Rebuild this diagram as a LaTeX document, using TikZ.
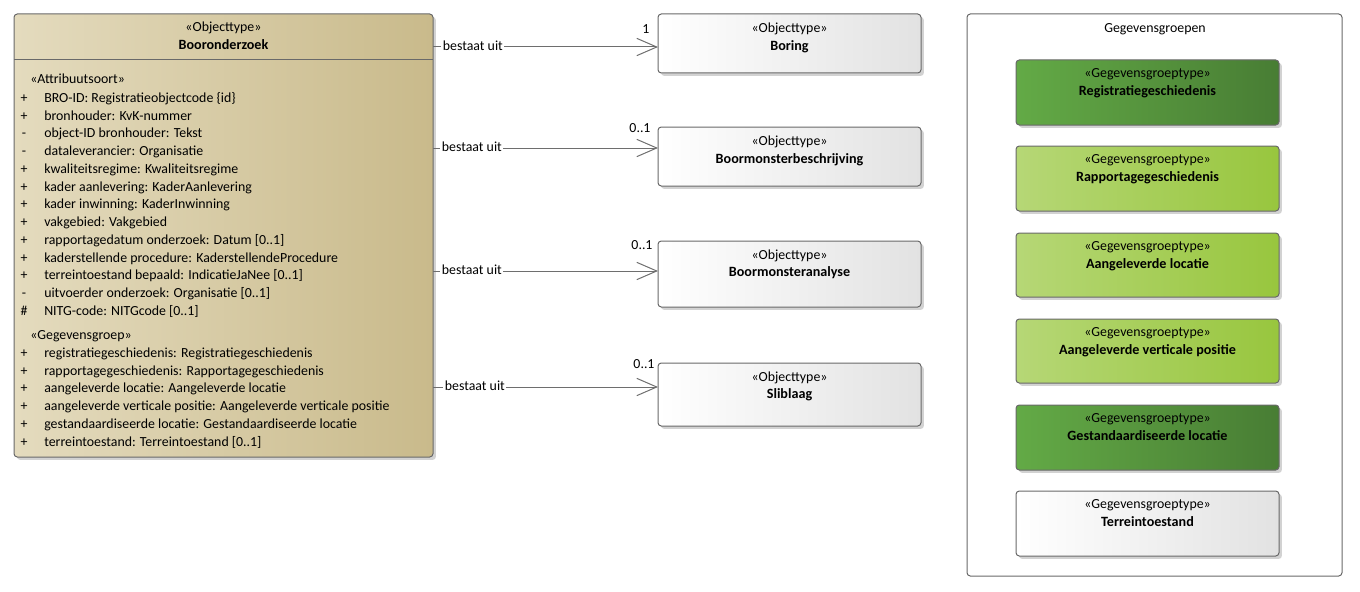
\documentclass[tikz,border=0pt]{standalone}
\usepackage{fontspec}
\setmainfont{Carlito}
\usetikzlibrary{shadows,arrows.meta}
\definecolor{boxline}{RGB}{105,105,105}
\definecolor{tanL}{RGB}{228,219,190}
\definecolor{tanR}{RGB}{201,186,139}
\definecolor{dgL}{RGB}{99,170,70}
\definecolor{dgR}{RGB}{72,125,52}
\definecolor{lgL}{RGB}{182,215,118}
\definecolor{lgR}{RGB}{152,198,62}
\definecolor{wR}{RGB}{226,226,226}
\definecolor{conn}{RGB}{110,110,110}
\begin{document}
\begin{tikzpicture}[x=0.75pt,y=-0.75pt,
  font=\fontsize{10.4}{12}\selectfont,
  umlbox/.style 2 args={draw=boxline, line width=0.75pt, rounded corners=2.5pt,
    inner sep=0pt, outer sep=0pt, anchor=north west,
    minimum width=#1*0.75pt, minimum height=#2*0.75pt,
    drop shadow={shadow xshift=2.2pt, shadow yshift=-2.2pt, fill=black!35, opacity=0.5}},
  tanfill/.style={left color=tanL, right color=tanR},
  dgreen/.style={left color=dgL, right color=dgR},
  lgreen/.style={left color=lgL, right color=lgR},
  wgrad/.style={left color=white, right color=wR},
  txt/.style={inner sep=0pt, text height=1.5ex, text depth=.25ex, yshift=-1.1pt},
  ster/.style={txt},
  nm/.style={txt, font=\fontsize{10.6}{12}\selectfont\bfseries},
  attr/.style={txt, anchor=west},
  assoc/.style={draw=conn, line width=0.75pt, -{Straight Barb[length=15pt,width=13pt,line width=0.75pt]}},
  lbl/.style={fill=white, inner sep=1.2pt, anchor=west, text height=1.5ex, text depth=.25ex},
  mult/.style={txt}
]
\useasboundingbox (0,0) rectangle (1360,592);

% ---------- Booronderzoek ----------
\node[umlbox={419}{443}, tanfill] (boor) at (14,14) {};
\draw[boxline, line width=0.75pt] (14,60) -- (433,60);
\node[ster] (boorS) at (223.5,26) {«Objecttype»};
\node[nm] (boorN) at (223.5,44) {Booronderzoek};
\node[attr] (attS) at (30,78) {«Attribuutsoort»};
\foreach \v/\t [count=\i] in {
  {+}/{BRO-ID: Registratieobjectcode \{id\}},
  {+}/{bronhouder: KvK-nummer},
  {-}/{object-ID bronhouder: Tekst},
  {-}/{dataleverancier: Organisatie},
  {+}/{kwaliteitsregime: Kwaliteitsregime},
  {+}/{kader aanlevering: KaderAanlevering},
  {+}/{kader inwinning: KaderInwinning},
  {+}/{vakgebied: Vakgebied},
  {+}/{rapportagedatum onderzoek: Datum [0..1]},
  {+}/{kaderstellende procedure: KaderstellendeProcedure},
  {+}/{terreintoestand bepaald: IndicatieJaNee [0..1]},
  {-}/{uitvoerder onderzoek: Organisatie [0..1]},
  {\#}/{NITG-code: NITGcode [0..1]}}{
  \pgfmathsetmacro\yy{97+(\i-1)*17.75}
  \node[txt] (vis\i) at (24,\yy) {\v};
  \node[attr] (att\i) at (44,\yy) {\t};
}
\node[attr] (gegS) at (30,334) {«Gegevensgroep»};
\foreach \v/\t [count=\i] in {
  {+}/{registratiegeschiedenis: Registratiegeschiedenis},
  {+}/{rapportagegeschiedenis: Rapportagegeschiedenis},
  {+}/{aangeleverde locatie: Aangeleverde locatie},
  {+}/{aangeleverde verticale positie: Aangeleverde verticale positie},
  {+}/{gestandaardiseerde locatie: Gestandaardiseerde locatie},
  {+}/{terreintoestand: Terreintoestand [0..1]}}{
  \pgfmathsetmacro\yy{352+(\i-1)*17.75}
  \node[txt] (gvis\i) at (24,\yy) {\v};
  \node[attr] (gatt\i) at (44,\yy) {\t};
}

% ---------- Object types ----------
\node[umlbox={263}{59}, wgrad] (boring) at (658,14) {};
\node[ster] (boringS) at (789.5,27) {«Objecttype»};
\node[nm] (boringN) at (789.5,45) {Boring};

\node[umlbox={263}{59}, wgrad] (bmb) at (658,127) {};
\node[ster] (bmbS) at (789.5,140) {«Objecttype»};
\node[nm] (bmbN) at (789.5,158) {Boormonsterbeschrijving};

\node[umlbox={263}{66}, wgrad] (bma) at (658,241) {};
\node[ster] (bmaS) at (789.5,254) {«Objecttype»};
\node[nm] (bmaN) at (789.5,271) {Boormonsteranalyse};

\node[umlbox={263}{63}, wgrad] (slib) at (658,363) {};
\node[ster] (slibS) at (789.5,376) {«Objecttype»};
\node[nm] (slibN) at (789.5,393) {Sliblaag};

% ---------- Associations ----------
\coordinate (c1) at (658,47);
\coordinate (c2) at (658,148);
\coordinate (c3) at (658,271);
\coordinate (c4) at (658,387);
\draw[assoc] (boor.east |- c1) -- (c1);
\draw[assoc] (boor.east |- c2) -- (c2);
\draw[assoc] (boor.east |- c3) -- (c3);
\draw[assoc] (boor.east |- c4) -- (c4);
\node[lbl] (l1) at (441,47) {bestaat uit};
\node[lbl] (l2) at (440,148) {bestaat uit};
\node[lbl] (l3) at (440,271) {bestaat uit};
\node[lbl] (l4) at (443,387) {bestaat uit};
\node[mult] (m1) at (646,28) {1};
\node[mult] (m2) at (640,127) {0..1};
\node[mult] (m3) at (642,244) {0..1};
\node[mult] (m4) at (644,363) {0..1};

% ---------- Gegevensgroepen ----------
\node[draw=boxline, line width=0.75pt, rounded corners=2.5pt, fill=white,
  inner sep=0pt, outer sep=0pt, anchor=north west,
  minimum width=375*0.75pt, minimum height=562*0.75pt] (frame) at (967,14) {};
\node[txt] (frameT) at (1155,27) {Gegevensgroepen};

\node[umlbox={263}{65}, dgreen] (g1) at (1016,60) {};
\node[ster] (g1S) at (1147.5,72) {«Gegevensgroeptype»};
\node[nm] (g1N) at (1147.5,90) {Registratiegeschiedenis};

\node[umlbox={263}{65}, lgreen] (g2) at (1016,146) {};
\node[ster] (g2S) at (1147.5,158) {«Gegevensgroeptype»};
\node[nm] (g2N) at (1147.5,176) {Rapportagegeschiedenis};

\node[umlbox={263}{64}, lgreen] (g3) at (1016,233) {};
\node[ster] (g3S) at (1147.5,245) {«Gegevensgroeptype»};
\node[nm] (g3N) at (1147.5,263) {Aangeleverde locatie};

\node[umlbox={263}{64}, lgreen] (g4) at (1016,319) {};
\node[ster] (g4S) at (1147.5,331) {«Gegevensgroeptype»};
\node[nm] (g4N) at (1147.5,349) {Aangeleverde verticale positie};

\node[umlbox={263}{65}, dgreen] (g5) at (1016,405) {};
\node[ster] (g5S) at (1147.5,417) {«Gegevensgroeptype»};
\node[nm] (g5N) at (1147.5,435) {Gestandaardiseerde locatie};

\node[umlbox={263}{65}, wgrad] (g6) at (1016,491) {};
\node[ster] (g6S) at (1147.5,503) {«Gegevensgroeptype»};
\node[nm] (g6N) at (1147.5,521) {Terreintoestand};
\end{tikzpicture}
\end{document}
